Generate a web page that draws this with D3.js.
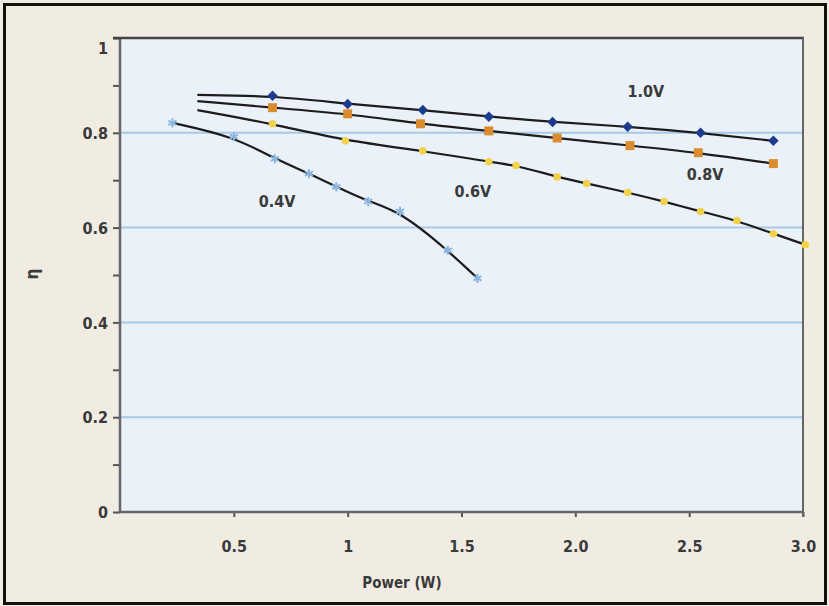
<!DOCTYPE html>
<html>
<head>
<meta charset="utf-8">
<script src="https://cdn.jsdelivr.net/npm/d3@7"></script>
<style>
  body { margin: 0; background: #fff; }
  svg { display: block; }
  .lbl { font-family: "DejaVu Sans Condensed", "DejaVu Sans", sans-serif; font-weight: bold; font-size: 16px; fill: #3a3a3a; }
  .tick text { font-family: "DejaVu Sans Condensed", "DejaVu Sans", sans-serif; font-weight: bold; font-size: 16px; fill: #3a3a3a; }
</style>
</head>
<body>
<svg width="829" height="606"></svg>
<script>
// axis ticks
const xTickValues = [0.5, 1, 1.5, 2, 2.5, 3];
const xTickLabels = ['0.5', '1', '1.5', '2.0', '2.5', '3.0'];
const yTickValues = [0, 0.1, 0.2, 0.3, 0.4, 0.5, 0.6, 0.7, 0.8, 0.9, 1];
const yTickLabels = ['0', '', '0.2', '', '0.4', '', '0.6', '', '0.8', '', '1'];
const gridValues = [0.2, 0.4, 0.6, 0.8];

// trend lines of the upper three curves start here
const fitStartPower = 0.34;

// 1.0V
const power10 = [0.67, 1.0, 1.33, 1.62, 1.90, 2.23, 2.55, 2.87];
const eta10 = [0.878, 0.861, 0.848, 0.834, 0.823, 0.813, 0.800, 0.783];
const fitStart10 = 0.880;

// 0.8V
const power08 = [0.67, 1.0, 1.32, 1.62, 1.92, 2.24, 2.54, 2.87];
const eta08 = [0.853, 0.840, 0.819, 0.804, 0.789, 0.773, 0.758, 0.735];
const fitStart08 = 0.867;

// 0.6V
const power06 = [0.67, 0.99, 1.33, 1.62, 1.74, 1.92, 2.05, 2.23, 2.39, 2.55, 2.71, 2.87, 3.01];
const eta06 = [0.819, 0.783, 0.762, 0.739, 0.731, 0.707, 0.693, 0.674, 0.655, 0.634, 0.615, 0.587, 0.564];
const fitStart06 = 0.848;

// 0.4V
const power04 = [0.23, 0.50, 0.68, 0.83, 0.95, 1.09, 1.23, 1.44, 1.57];
const eta04 = [0.821, 0.792, 0.745, 0.714, 0.686, 0.655, 0.634, 0.552, 0.493];

// curve labels, placed in data units
const labelNames = ['1.0V', '0.8V', '0.6V', '0.4V'];
const labelPower = [2.31, 2.57, 1.55, 0.69];
const labelEta = [0.888, 0.713, 0.677, 0.656];

const svg = d3.select('svg');
const W = 829, H = 606;
const plotL = 120, plotR = 803, plotT = 38, plotB = 512;

// page background + frame
svg.append('rect').attr('x', 0).attr('y', 0).attr('width', W).attr('height', H).attr('fill', '#f1ece2');
svg.append('rect').attr('x', 4.5).attr('y', 4.5).attr('width', W - 8).attr('height', H - 7)
  .attr('fill', 'none').attr('stroke', '#111').attr('stroke-width', 3);

const x = d3.scaleLinear().domain([0, 3]).range([plotL, plotR]);
const y = d3.scaleLinear().domain([0, 1]).range([plotB, plotT]);

// plot area
svg.append('rect').attr('x', plotL).attr('y', plotT).attr('width', plotR - plotL).attr('height', plotB - plotT)
  .attr('fill', '#eaf1f9');

svg.selectAll('.grid')
  .data(gridValues)
  .join('line')
  .classed('grid', true)
  .attr('x1', plotL).attr('x2', plotR)
  .attr('y1', d => y(d)).attr('y2', d => y(d))
  .attr('stroke', '#a9c9e6').attr('stroke-width', 2);

// axes
const yAxis = svg.append('g')
  .attr('transform', `translate(${plotL},0)`)
  .call(d3.axisLeft(y).tickValues(yTickValues).tickSize(7).tickPadding(5)
    .tickFormat((d, i) => yTickLabels[i]));
yAxis.selectAll('.tick text').attr('dy', d => d === 1 ? '0.95em' : '0.36em');

const xAxis = svg.append('g')
  .attr('transform', `translate(0,${plotB})`)
  .call(d3.axisBottom(x).tickValues(xTickValues).tickSize(5).tickPadding(24)
    .tickFormat((d, i) => xTickLabels[i]));

svg.selectAll('.domain').remove();
svg.selectAll('.tick line').attr('stroke', '#555').attr('stroke-width', 2);

// frame of the plot area
svg.append('line').attr('x1', plotL).attr('x2', plotL).attr('y1', plotT - 1).attr('y2', plotB + 1)
  .attr('stroke', '#666').attr('stroke-width', 2.5);
svg.append('line').attr('x1', plotL - 1).attr('x2', plotR + 1).attr('y1', plotB).attr('y2', plotB)
  .attr('stroke', '#666').attr('stroke-width', 2.5);
svg.append('line').attr('x1', plotL - 7).attr('x2', plotR + 1).attr('y1', plotT).attr('y2', plotT)
  .attr('stroke', '#444').attr('stroke-width', 2.5);
svg.append('line').attr('x1', plotR).attr('x2', plotR).attr('y1', plotT).attr('y2', plotB + 5)
  .attr('stroke', '#666').attr('stroke-width', 2);

// series table
const series = [
  { power: power10, eta: eta10, fit: fitStart10, symbol: d3.symbolDiamond2, size: 70, color: '#1d3a8c' },
  { power: power08, eta: eta08, fit: fitStart08, symbol: d3.symbolSquare, size: 80, color: '#d98b2e' },
  { power: power06, eta: eta06, fit: fitStart06, symbol: d3.symbolCircle, size: 45, color: '#f1d24a' },
  { power: power04, eta: eta04, fit: null, symbol: d3.symbolAsterisk, size: 60, color: '#8cb6dd' },
];

// smooth trend lines
const line = d3.line().x(d => x(d[0])).y(d => y(d[1])).curve(d3.curveBasis);

series.forEach(s => {
  let pts = s.power.map((p, i) => [p, s.eta[i]]);
  if (s.fit !== null) pts = [[fitStartPower, s.fit]].concat(pts);
  svg.append('path')
    .attr('d', line(pts))
    .attr('fill', 'none')
    .attr('stroke', '#1c1c1c')
    .attr('stroke-width', 2.2);
});

series.forEach(s => {
  const sym = d3.symbol().type(s.symbol).size(s.size);
  const marks = svg.append('g').selectAll('path')
    .data(s.power.map((p, i) => [p, s.eta[i]]))
    .join('path')
    .attr('transform', d => `translate(${x(d[0])},${y(d[1])})`)
    .attr('d', sym);
  if (s.symbol === d3.symbolAsterisk) {
    marks.attr('fill', 'none').attr('stroke', s.color).attr('stroke-width', 2);
  } else {
    marks.attr('fill', s.color);
  }
});

// curve labels
svg.selectAll('.curve-label')
  .data(labelNames)
  .join('text')
  .attr('class', 'curve-label lbl')
  .attr('x', (d, i) => x(labelPower[i]))
  .attr('y', (d, i) => y(labelEta[i]))
  .attr('dy', '0.36em')
  .attr('text-anchor', 'middle')
  .text(d => d);

// axis titles
svg.append('text')
  .attr('class', 'lbl')
  .attr('x', 402).attr('y', 583)
  .attr('dy', '0.36em')
  .attr('text-anchor', 'middle')
  .style('font-size', '15px')
  .text('Power (W)');

svg.append('text')
  .attr('class', 'lbl')
  .attr('transform', 'translate(32,274) rotate(-90)')
  .attr('text-anchor', 'middle')
  .attr('dy', '0.36em')
  .style('font-size', '17px')
  .text('η');
</script>
</body>
</html>
